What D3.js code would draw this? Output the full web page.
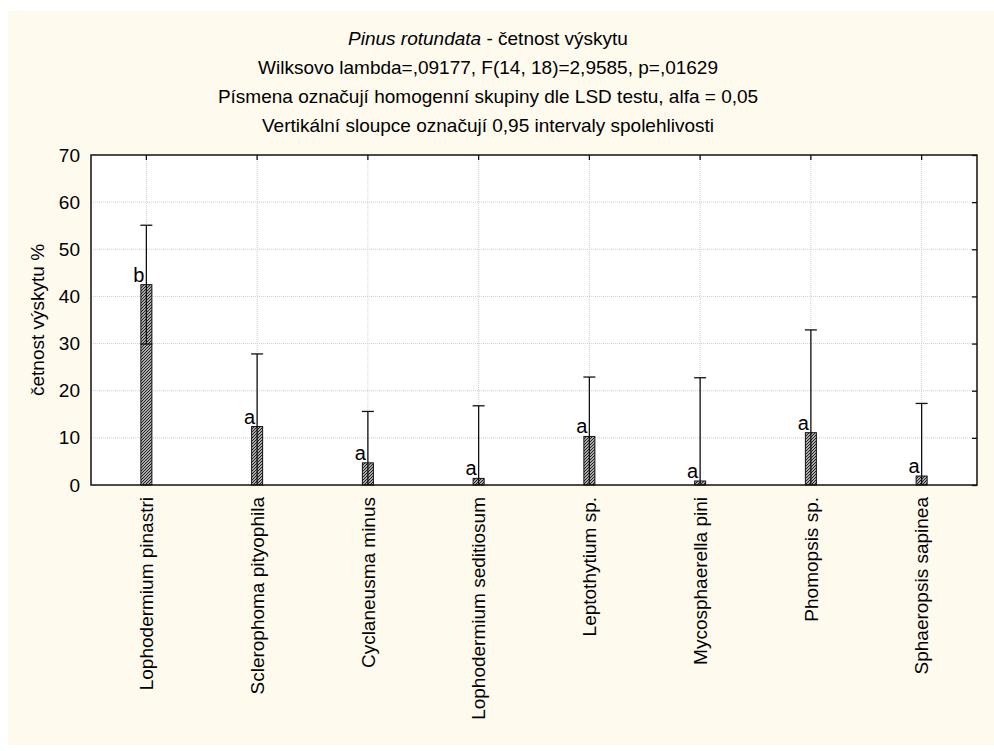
<!DOCTYPE html>
<html>
<head>
<meta charset="utf-8">
<script src="https://cdn.jsdelivr.net/npm/d3@7"></script>
<style>
  body { margin: 0; background: #fff; }
  svg text { font-family: "Liberation Sans", Arial, sans-serif; fill: #000; }
</style>
</head>
<body>
<svg id="drawing_region"></svg>
<script>
// data
const categories = ["Lophodermium pinastri", "Sclerophoma pityophila", "Cyclaneusma minus",
  "Lophodermium seditiosum", "Leptothytium sp.", "Mycosphaerella pini", "Phomopsis sp.", "Sphaeropsis sapinea"];
const means = [42.5, 12.4, 4.7, 1.4, 10.3, 0.85, 11.1, 1.9];
const ciHalf = [12.6, 15.4, 10.9, 15.4, 12.6, 21.9, 21.8, 15.4];
const groups = ["b", "a", "a", "a", "a", "a", "a", "a"];
const yTicks = [0, 10, 20, 30, 40, 50, 60, 70];
const titleLines = [
  "Wilksovo lambda=,09177, F(14, 18)=2,9585, p=,01629",
  "Písmena označují homogenní skupiny dle LSD testu, alfa = 0,05",
  "Vertikální sloupce označují 0,95 intervaly spolehlivosti"
];

const W = 994, H = 751;
const m = { left: 91, right: 977, top: 155, bottom: 485 };
const fs = 19;

const svg = d3.select('#drawing_region').attr('width', W).attr('height', H);

// cream panel
svg.append('rect').attr('x', 8).attr('y', 11).attr('width', W - 8).attr('height', 734)
  .attr('fill', '#fefaee');

const defs = svg.append('defs');
const pat = defs.append('pattern').attr('id', 'hatch').attr('patternUnits', 'userSpaceOnUse')
  .attr('width', 3).attr('height', 3);
pat.append('rect').attr('width', 3).attr('height', 3).attr('fill', '#a8a8a8');
pat.append('path').attr('d', 'M-1,1 l2,-2 M0,3 l3,-3 M2,4 l2,-2')
  .attr('stroke', '#222').attr('stroke-width', 1);
defs.append('clipPath').attr('id', 'plotclip').append('rect')
  .attr('x', m.left).attr('y', m.top).attr('width', m.right - m.left).attr('height', m.bottom - m.top);

const x = d3.scaleBand().domain(categories).range([m.left, m.right]).padding(0);
const cx = d => x(d) + x.bandwidth() / 2;
const y = d3.scaleLinear().domain([0, 70]).range([m.bottom, m.top]);

// title
const title = svg.append('g').attr('font-size', fs).attr('text-anchor', 'middle');
const t1 = title.append('text').attr('x', 488).attr('y', 45);
t1.append('tspan').attr('font-style', 'italic').text('Pinus rotundata');
t1.append('tspan').text(' - četnost výskytu');
titleLines.forEach((s, i) => {
  title.append('text').attr('x', 488).attr('y', 74 + i * 29).text(s);
});

// plot background
svg.append('rect').attr('x', m.left).attr('y', m.top)
  .attr('width', m.right - m.left).attr('height', m.bottom - m.top).attr('fill', '#fff');

// grid
const grid = svg.append('g').attr('stroke', '#cfcfcf').attr('stroke-dasharray', '1,1');
grid.selectAll('.hg').data(yTicks.slice(1, -1)).enter().append('line')
  .attr('x1', m.left).attr('x2', m.right).attr('y1', d => y(d)).attr('y2', d => y(d));
grid.selectAll('.vg').data(categories).enter().append('line')
  .attr('x1', cx).attr('x2', cx).attr('y1', m.top).attr('y2', m.bottom);

// bars
const bw = 11;
svg.selectAll('.bar').data(categories).enter().append('rect')
  .attr('x', d => cx(d) - bw / 2).attr('width', bw)
  .attr('y', (d, i) => y(means[i])).attr('height', (d, i) => y(0) - y(means[i]))
  .attr('fill', 'url(#hatch)').attr('stroke', '#111').attr('stroke-width', 1);

// error bars
const eb = svg.append('g').attr('clip-path', 'url(#plotclip)').attr('stroke', '#111').attr('stroke-width', 1.3);
categories.forEach((c, i) => {
  const hi = y(means[i] + ciHalf[i]), lo = y(means[i] - ciHalf[i]);
  eb.append('line').attr('x1', cx(c)).attr('x2', cx(c)).attr('y1', hi).attr('y2', lo);
  eb.append('line').attr('x1', cx(c) - 6).attr('x2', cx(c) + 6).attr('y1', hi).attr('y2', hi);
  eb.append('line').attr('x1', cx(c) - 6).attr('x2', cx(c) + 6).attr('y1', lo).attr('y2', lo);
});

// group letters
svg.selectAll('.grp').data(categories).enter().append('text')
  .attr('x', d => cx(d) - 2).attr('y', (d, i) => y(means[i]) - 3)
  .attr('text-anchor', 'end').attr('font-size', 20).text((d, i) => groups[i]);

// axes
const yAxis = svg.append('g').attr('transform', `translate(${m.left},0)`)
  .call(d3.axisLeft(y).tickValues(yTicks).tickSize(0).tickPadding(11));
yAxis.select('.domain').remove();
yAxis.selectAll('text').attr('font-size', fs).attr('font-family', '"Liberation Sans", Arial, sans-serif');

const yAxisR = svg.append('g').attr('transform', `translate(${m.right},0)`)
  .call(d3.axisLeft(y).tickValues(yTicks).tickSize(5).tickFormat(''));
yAxisR.select('.domain').remove();
yAxisR.selectAll('line').attr('stroke', '#111').attr('stroke-width', 1.3);

const xAxisT = svg.append('g').attr('transform', `translate(0,${m.top})`)
  .call(d3.axisBottom(x).tickSize(5).tickFormat(''));
xAxisT.select('.domain').remove();
xAxisT.selectAll('line').attr('stroke', '#111').attr('stroke-width', 1.3);

const xAxis = svg.append('g').attr('transform', `translate(0,${m.bottom})`)
  .call(d3.axisBottom(x).tickSize(0).tickPadding(0));
xAxis.select('.domain').remove();
xAxis.selectAll('text')
  .attr('font-size', fs).attr('font-family', '"Liberation Sans", Arial, sans-serif')
  .attr('text-anchor', 'end')
  .attr('transform', 'translate(0,12) rotate(-90)')
  .attr('x', 0).attr('y', 0).attr('dy', '0.35em');

// frame
svg.append('rect').attr('x', m.left).attr('y', m.top)
  .attr('width', m.right - m.left).attr('height', m.bottom - m.top)
  .attr('fill', 'none').attr('stroke', '#111').attr('stroke-width', 1.5);

// y label
svg.append('text').attr('transform', `translate(44,${(m.top + m.bottom) / 2}) rotate(-90)`)
  .attr('text-anchor', 'middle').attr('font-size', fs).text('četnost výskytu %');
</script>
</body>
</html>
